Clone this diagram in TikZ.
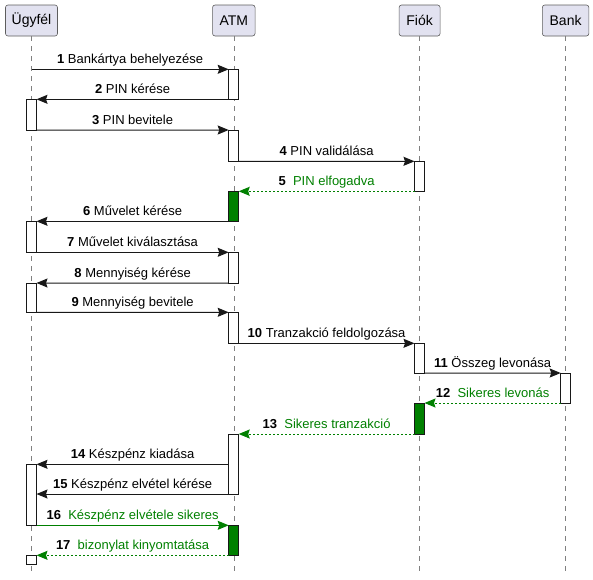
\documentclass[tikz,border=0pt]{standalone}
\usepackage{fontspec}
\setmainfont{Liberation Sans}
\usetikzlibrary{arrows.meta}
\definecolor{partfill}{HTML}{E2E2F0}
\definecolor{dark}{HTML}{181818}
\definecolor{okgreen}{HTML}{008000}
\begin{document}
\begin{tikzpicture}[x=1pt,y=-1pt,
  part/.style={draw=dark!70, line width=0.6pt, fill=partfill, rounded corners=2.5pt,
    minimum height=31pt, inner xsep=0pt, font=\fontsize{14}{16}\selectfont},
  life/.style={draw=gray, line width=0.6pt, dash pattern=on 5pt off 5pt},
  actbar/.style={draw=dark, line width=1pt, fill=white, minimum width=10pt, inner sep=0pt, outer sep=0pt},
  okbar/.style={actbar, fill=okgreen},
  msg/.style={draw=dark, line width=1pt, -{Stealth[length=11pt,width=9pt,inset=1.5pt]}},
  okmsg/.style={msg, draw=okgreen, -{Stealth[length=11pt,width=9pt,inset=1.5pt,fill=okgreen]}},
  okret/.style={okmsg, dash pattern=on 2pt off 2pt},
  lbl/.style={midway, anchor=base, yshift=5.5pt, inner sep=0pt, font=\fontsize{13}{15}\selectfont, text=black}
]
\useasboundingbox (0,0) rectangle (593,579);
% participants
\node[part, minimum width=52pt] (u) at (31.5,20.5) {Ügyfél};
\node[part, minimum width=42.5pt] (a) at (233.8,20.5) {ATM};
\node[part, minimum width=41pt] (f) at (419.6,20.5) {Fiók};
\node[part, minimum width=46.5pt] (b) at (565.6,20.5) {Bank};
\coordinate (bot) at (0,573);
% lifelines
\draw[life] (u.south) -- (u.south |- bot);
\draw[life] (a.south) -- (a.south |- bot);
\draw[life] (f.south) -- (f.south |- bot);
\draw[life] (b.south) -- (b.south |- bot);
% activation bars
\node[actbar, minimum height=30pt, anchor=north] (A1) at (233.7,69.3) {};
\node[actbar, minimum height=30.7pt, anchor=north] (U1) at (31.5,99.3) {};
\node[actbar, minimum height=31.3pt, anchor=north] (A2) at (233.7,130) {};
\node[actbar, minimum height=30pt, anchor=north] (F1) at (419.5,161.3) {};
\node[okbar, minimum height=30pt, anchor=north] (A3) at (233.7,191.3) {};
\node[actbar, minimum height=31pt, anchor=north] (U2) at (31.5,221.3) {};
\node[actbar, minimum height=30.7pt, anchor=north] (A4) at (233.7,252.3) {};
\node[actbar, minimum height=29.3pt, anchor=north] (U3) at (31.5,283) {};
\node[actbar, minimum height=31pt, anchor=north] (A5) at (233.7,312.3) {};
\node[actbar, minimum height=29.7pt, anchor=north] (F2) at (419.5,343.3) {};
\node[actbar, minimum height=30pt, anchor=north] (B1) at (565.7,373) {};
\node[okbar, minimum height=31pt, anchor=north] (F3) at (419.5,403) {};
\node[actbar, minimum height=60pt, anchor=north] (A6) at (233.7,434) {};
\node[actbar, minimum height=61pt, anchor=north] (U4) at (31.5,464.3) {};
\node[okbar, minimum height=30pt, anchor=north] (A7) at (233.7,525.3) {};
\node[actbar, minimum height=9pt, anchor=north] (U5) at (31.5,555.3) {};
% messages
\draw[msg] (u |- A1.north) -- (A1.north west) node[lbl] {\textbf{1} Bankártya behelyezése};
\draw[msg] (A1.south west) -- (U1.north east) node[lbl] {\textbf{2} PIN kérése};
\draw[msg] (U1.south east) -- (A2.north west) node[lbl] {\textbf{3} PIN bevitele};
\draw[msg] (A2.south east) -- (F1.north west) node[lbl] {\textbf{4} PIN validálása};
\draw[okret] (F1.south west) -- (A3.north east) node[lbl] {\textbf{5}\ \ \textcolor{okgreen}{PIN elfogadva}};
\draw[msg] (A3.south west) -- (U2.north east) node[lbl] {\textbf{6} Művelet kérése};
\draw[msg] (U2.south east) -- (A4.north west) node[lbl] {\textbf{7} Művelet kiválasztása};
\draw[msg] (A4.south west) -- (U3.north east) node[lbl] {\textbf{8} Mennyiség kérése};
\draw[msg] (U3.south east) -- (A5.north west) node[lbl] {\textbf{9} Mennyiség bevitele};
\draw[msg] (A5.south east) -- (F2.north west) node[lbl] {\textbf{10} Tranzakció feldolgozása};
\draw[msg] (F2.south east) -- (B1.north west) node[lbl] {\textbf{11} Összeg levonása};
\draw[okret] (B1.south west) -- (F3.north east) node[lbl] {\textbf{12}\ \ \textcolor{okgreen}{Sikeres levonás}};
\draw[okret] (F3.south west) -- (A6.north east) node[lbl] {\textbf{13}\ \ \textcolor{okgreen}{Sikeres tranzakció}};
\draw[msg] (A6.west |- U4.north) -- (U4.north east) node[lbl] {\textbf{14} Készpénz kiadása};
\draw[msg] (A6.south west) -- (U4.east |- A6.south) node[lbl] {\textbf{15} Készpénz elvétel kérése};
\draw[okmsg] (U4.south east) -- (A7.north west) node[lbl] {\textbf{16}\ \ \textcolor{okgreen}{Készpénz elvétele sikeres}};
\draw[okret] (A7.south west) -- (U5.north east) node[lbl] {\textbf{17}\ \ \textcolor{okgreen}{bizonylat kinyomtatása}};
\end{tikzpicture}
\end{document}
